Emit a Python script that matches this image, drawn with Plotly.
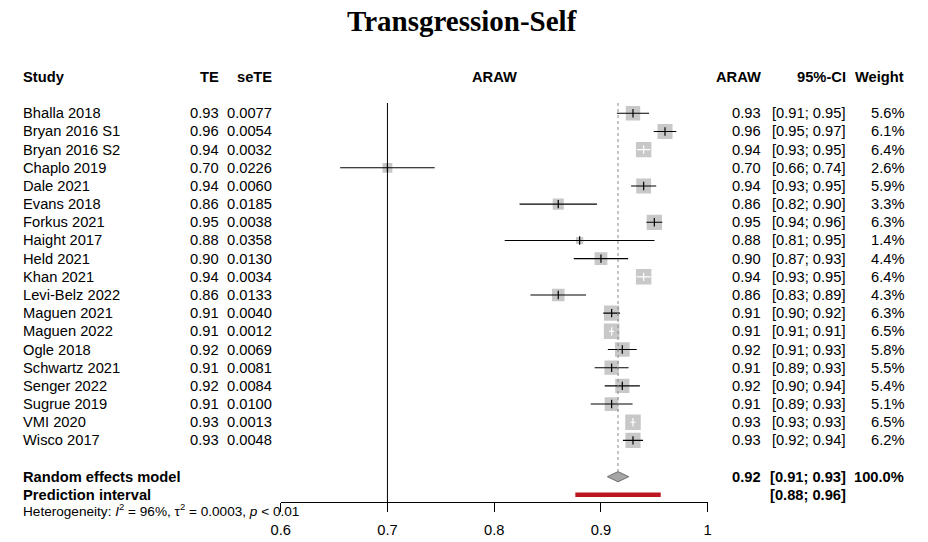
import math
import plotly.graph_objects as go

# ---------------- data ----------------
title = "Transgression-Self"
studies = ["Bhalla 2018", "Bryan 2016 S1", "Bryan 2016 S2", "Chaplo 2019", "Dale 2021",
           "Evans 2018", "Forkus 2021", "Haight 2017", "Held 2021", "Khan 2021",
           "Levi-Belz 2022", "Maguen 2021", "Maguen 2022", "Ogle 2018", "Schwartz 2021",
           "Senger 2022", "Sugrue 2019", "VMI 2020", "Wisco 2017"]
te = [0.93, 0.96, 0.94, 0.70, 0.94, 0.86, 0.95, 0.88, 0.90, 0.94,
      0.86, 0.91, 0.91, 0.92, 0.91, 0.92, 0.91, 0.93, 0.93]
se_te = [0.0077, 0.0054, 0.0032, 0.0226, 0.0060, 0.0185, 0.0038, 0.0358, 0.0130, 0.0034,
         0.0133, 0.0040, 0.0012, 0.0069, 0.0081, 0.0084, 0.0100, 0.0013, 0.0048]
weights = [5.6, 6.1, 6.4, 2.6, 5.9, 3.3, 6.3, 1.4, 4.4, 6.4,
           4.3, 6.3, 6.5, 5.8, 5.5, 5.4, 5.1, 6.5, 6.2]
re_est, re_lower, re_upper = 0.916, 0.906, 0.926
pi_lower, pi_upper = 0.876, 0.956
het_i2, het_tau2, het_p = "96%", "0.0003", "< 0.01"
null_value = 0.7
x_ticks = [0.6, 0.7, 0.8, 0.9, 1.0]
x_tick_labels = ["0.6", "0.7", "0.8", "0.9", "1"]
col_headers = ["Study", "TE", "seTE", "ARAW", "ARAW", "95%-CI", "Weight"]

# ---------------- layout constants (pixels) ----------------
W, H = 928, 542
FX0, FX1 = 280.7, 707.7          # forest x-range in px (0.6 .. 1.0)
ROW1_PX, ROW_H = 113.3, 18.17     # first study row centre, row spacing
AXIS_PX = 502
FONT = "Liberation Sans, Arial, Helvetica, sans-serif"
FS = 14.7
SQ_K = 6.1
Z = 1.96

def row_of_px(py):
    return 1 + (py - ROW1_PX) / ROW_H

def px_per_unit():
    return (FX1 - FX0) / (x_ticks[-1] - x_ticks[0])

rows = list(range(1, len(studies) + 1))
row_header = -1
row_re = len(studies) + 2
row_pi = row_re + 1
row_het = row_pi + 1

lower = [t - Z * s for t, s in zip(te, se_te)]
upper = [t + Z * s for t, s in zip(te, se_te)]
sq_size = [SQ_K * math.sqrt(w) for w in weights]
inside = [(Z * s * px_per_unit()) < (sz / 2) for s, sz in zip(se_te, sq_size)]

fig = go.Figure()

# squares
fig.add_trace(go.Scatter(x=te, y=rows, mode="markers",
                         marker=dict(symbol="square", size=sq_size, color="#B0B0B0",
                                     line=dict(width=0)),
                         hoverinfo="skip", showlegend=False))

# whiskers
def seg(flag):
    xs, ys = [], []
    for lo, hi, r, ins in zip(lower, upper, rows, inside):
        if ins == flag:
            xs += [lo, hi, None]
            ys += [r, r, None]
    return xs, ys

xb, yb = seg(False)
fig.add_trace(go.Scatter(x=xb, y=yb, mode="lines", line=dict(color="black", width=1.1),
                         hoverinfo="skip", showlegend=False))
xw, yw = seg(True)
fig.add_trace(go.Scatter(x=xw, y=yw, mode="lines", line=dict(color="white", width=1.1),
                         hoverinfo="skip", showlegend=False))

# point estimate ticks
fig.add_trace(go.Scatter(x=te, y=rows, mode="markers",
                         marker=dict(symbol="line-ns", size=6,
                                     line=dict(width=1.2,
                                               color=["white" if i else "black" for i in inside])),
                         hoverinfo="skip", showlegend=False))

# diamond
dh = 0.28
fig.add_trace(go.Scatter(x=[re_lower, re_est, re_upper, re_est, re_lower],
                         y=[row_re, row_re - dh, row_re, row_re + dh, row_re],
                         mode="lines", fill="toself", fillcolor="#A6A6A6",
                         line=dict(color="#6E6E6E", width=1),
                         hoverinfo="skip", showlegend=False))

# prediction interval
fig.add_trace(go.Scatter(x=[pi_lower, pi_upper], y=[row_pi, row_pi], mode="lines",
                         line=dict(color="#BE1620", width=4.5),
                         hoverinfo="skip", showlegend=False))

# invisible full-width pixel axis used to position the text columns
fig.add_trace(go.Scatter(x=[None], y=[None], xaxis="x2", yaxis="y", mode="markers",
                         hoverinfo="skip", showlegend=False))

top_row = row_of_px(103)
shapes = [
    dict(type="line", xref="x", yref="y", x0=null_value, x1=null_value,
         y0=top_row, y1=row_of_px(AXIS_PX), line=dict(color="black", width=1)),
    dict(type="line", xref="x", yref="y", x0=re_est, x1=re_est,
         y0=top_row, y1=row_re - dh, line=dict(color="#8A8A8A", width=1, dash="dot")),
]

# ---------------- text ----------------
ann = []
def txt(xpx, row, text, anchor="left", bold=False, size=FS, family=FONT):
    ann.append(dict(x=xpx, xref="x2", y=row, yref="y", text=(f"<b>{text}</b>" if bold else text),
                    showarrow=False, xanchor=anchor, yanchor="middle",
                    font=dict(family=family, size=size, color="black")))

STUDY_X, TE_X, SE_X, FOREST_C, ARAW_X, CI_X, W_X = 21.0, 220.5, 273.5, (FX0 + FX1) / 2, 763, 847.5, 905.5

# headers
txt(STUDY_X, row_header, col_headers[0], "left", True)
txt(TE_X, row_header, col_headers[1], "right", True)
txt(SE_X, row_header, col_headers[2], "right", True)
txt(FOREST_C, row_header, col_headers[3], "center", True)
txt(ARAW_X, row_header, col_headers[4], "right", True)
txt(CI_X, row_header, col_headers[5], "right", True)
txt(W_X, row_header, col_headers[6], "right", True)

for r, s, t, e, lo, hi, w in zip(rows, studies, te, se_te, lower, upper, weights):
    txt(STUDY_X, r, s, "left")
    txt(TE_X, r, f"{t:.2f}", "right")
    txt(SE_X, r, f"{e:.4f}", "right")
    txt(ARAW_X, r, f"{t:.2f}", "right")
    txt(CI_X, r, f"[{lo:.2f}; {hi:.2f}]", "right")
    txt(W_X, r, f"{w:.1f}%", "right")

txt(STUDY_X, row_re, "Random effects model", "left", True)
txt(ARAW_X, row_re, f"{re_est:.2f}", "right", True)
txt(CI_X, row_re, f"[{re_lower:.2f}; {re_upper:.2f}]", "right", True)
txt(W_X, row_re, f"{sum(weights):.1f}%", "right", True)
txt(STUDY_X, row_pi, "Prediction interval", "left", True)
txt(CI_X, row_pi, f"[{pi_lower:.2f}; {pi_upper:.2f}]", "right", True)
txt(STUDY_X, row_het - 0.18,
    f"Heterogeneity: <i>I</i><sup>2</sup> = {het_i2}, τ<sup>2</sup> = {het_tau2}, <i>p</i> {het_p}",
    "left", False, 13.6)

# title
txt(462, row_of_px(20.5), title, "center", True, 29,
    "Liberation Serif, Times New Roman, serif")

y_top = row_of_px(0)
y_bot = row_of_px(H)

fig.update_layout(
    width=W, height=H, margin=dict(l=0, r=0, t=0, b=0, autoexpand=False),
    paper_bgcolor="white", plot_bgcolor="rgba(0,0,0,0)",
    shapes=shapes, annotations=ann, showlegend=False,
    xaxis=dict(domain=[FX0 / W, FX1 / W], range=[x_ticks[0], x_ticks[-1]],
               anchor="free", position=(H - AXIS_PX) / H, automargin=False,
               showline=True, linecolor="black", linewidth=1,
               ticks="outside", ticklen=9, tickcolor="black", tickwidth=1,
               tickvals=x_ticks, ticktext=x_tick_labels,
               tickfont=dict(family=FONT, size=FS, color="black"),
               ticklabelstandoff=5,
               showgrid=False, zeroline=False, fixedrange=True),
    xaxis2=dict(domain=[0, 1], range=[0, W], anchor="y", visible=False, automargin=False,
                showgrid=False, zeroline=False, fixedrange=True),
    yaxis=dict(domain=[0, 1], range=[y_bot, y_top], visible=False, automargin=False,
               showgrid=False, zeroline=False, fixedrange=True),
)

fig.write_html("out.html")
